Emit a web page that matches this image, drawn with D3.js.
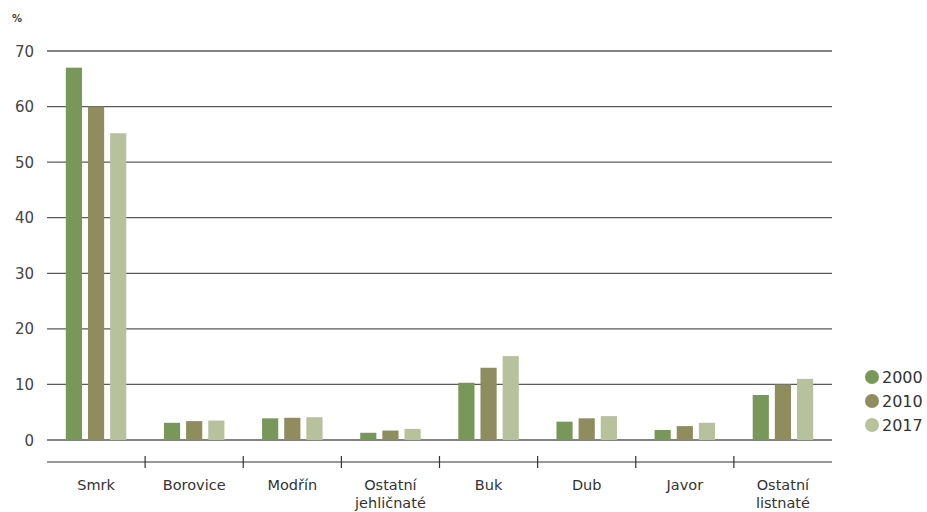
<!DOCTYPE html>
<html><head><meta charset="utf-8">
<script src="https://cdn.jsdelivr.net/npm/d3@7"></script>
<style>body{margin:0;background:#fff;} text{font-family:"DejaVu Sans","Noto Sans",sans-serif;}</style>
</head><body>
<svg id="c" width="927" height="512"></svg>
<script>
const categories = [["Smrk"],["Borovice"],["Modřín"],["Ostatní","jehličnaté"],["Buk"],["Dub"],["Javor"],["Ostatní","listnaté"]];
const years = ["2000","2010","2017"];
const v2000 = [67, 3.1, 3.9, 1.3, 10.3, 3.3, 1.8, 8.1];
const v2010 = [60, 3.4, 4.0, 1.7, 13.0, 3.9, 2.5, 10.0];
const v2017 = [55.2, 3.5, 4.1, 2.0, 15.1, 4.3, 3.1, 11.0];
const yTicks = [0,10,20,30,40,50,60,70];
const colors = ["#78985a","#8f8c5e","#b7c19b"];

const series = [v2000, v2010, v2017];
const svg = d3.select("#c");
const left = 47, right = 832;
const y = d3.scaleLinear().domain([0,70]).range([440,51]);
const keys = categories.map((c,i)=>i);
const x = d3.scaleBand().domain(keys).range([left,right]).paddingInner(0).paddingOuter(0);
const xi = d3.scaleBand().domain(years).range([0, x.bandwidth()]).paddingInner(0.27).paddingOuter(0.85);

// gridlines
svg.append("g").selectAll("line").data(yTicks).join("line")
  .attr("x1",left).attr("x2",right).attr("y1",d=>y(d)).attr("y2",d=>y(d))
  .attr("stroke","#5a5a5a").attr("stroke-width",1.3);
svg.append("g").selectAll("text").data(yTicks).join("text")
  .attr("x",34).attr("y",d=>y(d)+5.5).attr("text-anchor","end")
  .attr("font-size",15).attr("fill","#444").text(d=>d);
svg.append("text").attr("x",12).attr("y",22).attr("font-size",10).attr("font-weight","bold").attr("fill","#444").text("%");

// bars
years.forEach((yr,si)=>{
  svg.append("g").selectAll("rect").data(series[si]).join("rect")
    .attr("x",(d,i)=>x(i)+xi(yr)).attr("width",xi.bandwidth())
    .attr("y",d=>y(d)).attr("height",d=>y(0)-y(d)).attr("fill",colors[si]);
});

// x axis
const ax = 462;
svg.append("line").attr("x1",left).attr("x2",right).attr("y1",ax).attr("y2",ax).attr("stroke","#333").attr("stroke-width",1.2);
svg.append("g").selectAll("line").data(keys.slice(1)).join("line")
  .attr("x1",d=>x(d)).attr("x2",d=>x(d)).attr("y1",ax-6).attr("y2",ax+6).attr("stroke","#333").attr("stroke-width",1.2);
const lab = svg.append("g").selectAll("text").data(categories).join("text")
  .attr("text-anchor","middle").attr("font-size",14.5).attr("fill","#333");
lab.each(function(lines,i){
  const t = d3.select(this);
  lines.forEach((l,k)=>t.append("tspan").attr("x",x(i)+x.bandwidth()/2).attr("y",490+k*18).text(l));
});

// legend
const lg = svg.append("g");
years.forEach((yr,i)=>{
  lg.append("circle").attr("cx",872).attr("cy",377+i*24).attr("r",7).attr("fill",colors[i]);
  lg.append("text").attr("x",882).attr("y",383+i*24).attr("font-size",16).attr("fill","#333").text(yr);
});
</script>
</body></html>
